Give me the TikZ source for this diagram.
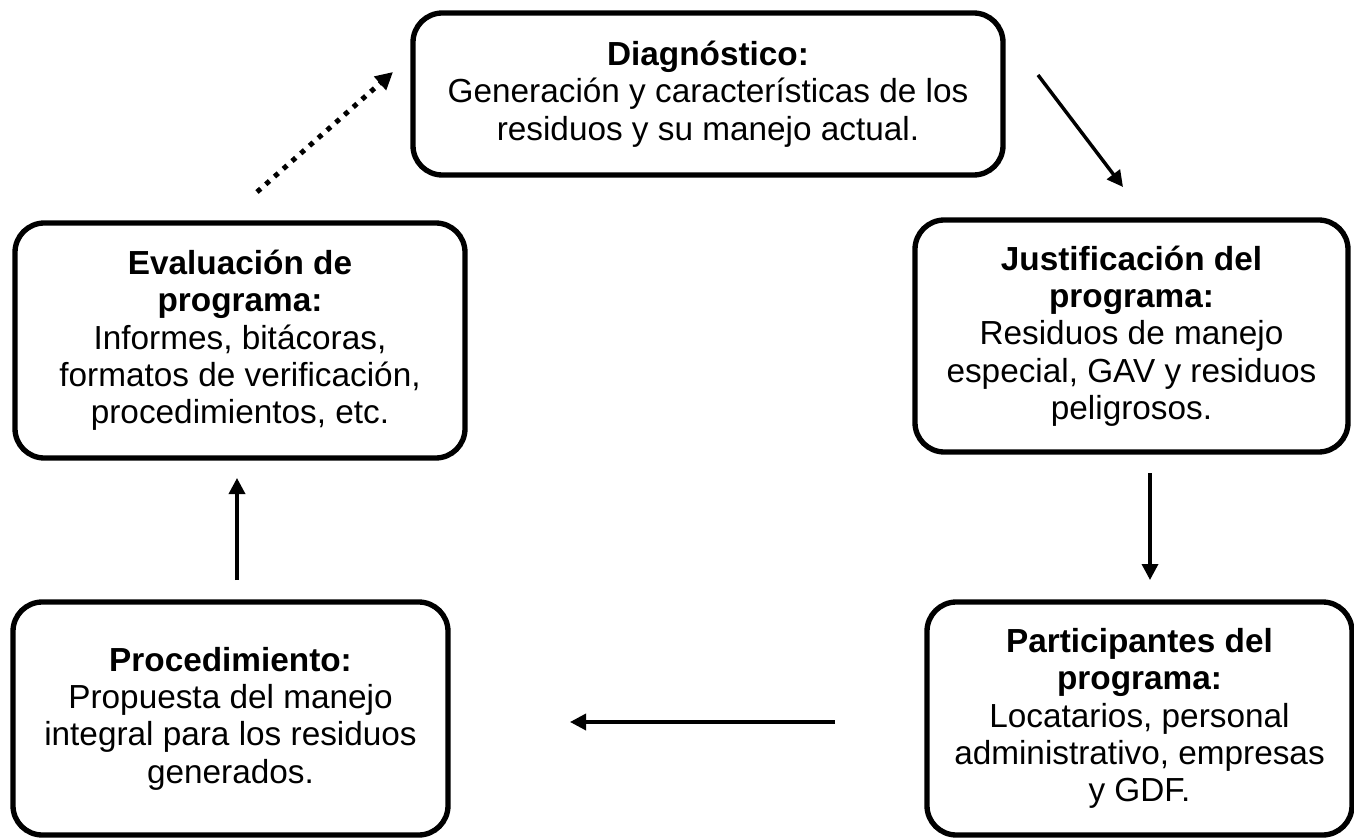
\documentclass[tikz,border=0pt]{standalone}
\usepackage{fontspec}
\setmainfont{Liberation Sans}
\usetikzlibrary{arrows.meta}
\tikzset{
  stagebox/.style={draw, line width=4pt, rounded corners=22pt, align=center, inner sep=0pt,
    font=\fontsize{25}{28}\selectfont},
  flowarrow/.style={line width=2.6pt, -{Triangle[length=12pt,width=12pt]}},
  dotarrow/.style={line width=3.75pt, dash pattern=on 3.75pt off 5pt, -{Triangle[length=13pt,width=13pt]}}
}
\begin{document}
\begin{tikzpicture}[x=0.75pt, y=-0.75pt]
\useasboundingbox (0,0) rectangle (1354,838);

% TOP BOX
\node[stagebox, minimum width=442.5pt, minimum height=121.5pt] (diag) at (708,94)
  {\textbf{Diagnóstico:}\\Generación y características de los\\residuos y su manejo actual.};

% RIGHT SIDE
\node[stagebox, minimum width=324.75pt, minimum height=174pt] (justif) at (1131.5,336)
  {\textbf{Justificación del}\\\textbf{programa:}\\Residuos de manejo\\especial, GAV y residuos\\peligrosos.};
\node[stagebox, minimum width=318.75pt, minimum height=174.75pt] (partic) at (1139.5,718.5)
  {\textbf{Participantes del}\\\textbf{programa:}\\Locatarios, personal\\administrativo, empresas\\y GDF.};

% LEFT SIDE
\node[stagebox, minimum width=326.25pt, minimum height=174.75pt] (proc) at (230.5,718.5)
  {\textbf{Procedimiento:}\\Propuesta del manejo\\integral para los residuos\\generados.};
\node[stagebox, minimum width=337.5pt, minimum height=176.25pt] (eval) at (240,340.5)
  {\textbf{Evaluación de}\\\textbf{programa:}\\Informes, bitácoras,\\formatos de verificación,\\procedimientos, etc.};

% ARROW ENDS
\coordinate (diagout) at (1038,75);
\coordinate (justifin) at (1123,187);
\coordinate (justifout) at (1150,473);
\coordinate (particin) at (1150,580);
\coordinate (particout) at (835,722);
\coordinate (procin) at (570,722);
\coordinate (procout) at (237,580);
\coordinate (evalin) at (237,478);
\coordinate (evalout) at (257,192);
\coordinate (diagin) at (393,72);

\draw[flowarrow] (diagout) -- (justifin);
\draw[flowarrow] (justifout) -- (particin);
\draw[flowarrow] (particout) -- (procin);
\draw[flowarrow] (procout) -- (evalin);
\draw[dotarrow] (evalout) -- (diagin);
\end{tikzpicture}
\end{document}
